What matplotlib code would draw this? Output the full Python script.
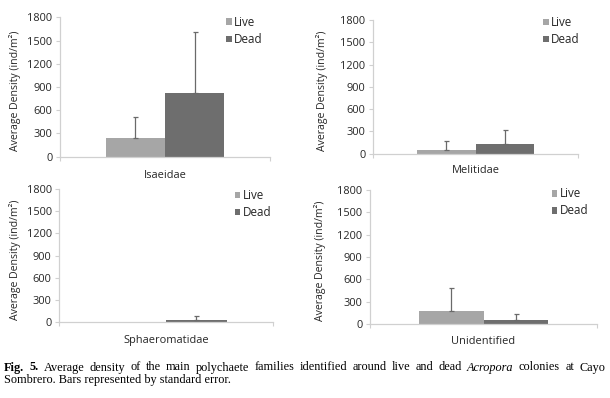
import matplotlib
matplotlib.use("Agg")
import matplotlib.pyplot as plt
from matplotlib.patches import Patch

# ---- data ----
families = ["Isaeidae", "Melitidae", "Sphaeromatidae", "Unidentified"]
live_mean = [245, 54, 0, 175]
live_se = [270, 121, 0, 309]
dead_mean = [819, 127, 22, 50]
dead_se = [795, 196, 63, 80]
yticks = [0, 300, 600, 900, 1200, 1500, 1800]
series_labels = ["Live", "Dead"]
ylabel = "Average Density (ind/m\u00b2)"

# ---- style ----
W, H = 610, 398
DPI = 100
plt.rcParams["font.family"] = ["Open Sans", "DejaVu Sans"]
live_color = "#a6a6a6"
dead_color = "#6e6e6e"
err_color = "#6a6a6a"
axis_color = "#d0d0d0"
text_color = "#262626"

fig = plt.figure(figsize=(W / DPI, H / DPI), dpi=DPI)

# panel rectangles in pixels: left, top, right, bottom
rects = [(60, 17.3, 270, 156.7),
         (373, 20, 578, 153.7),
         (59.3, 189, 273, 322),
         (370, 190, 597, 324)]
# legend anchor (axes fraction) for each panel
leg_anchor = [(0.79, 1.01), (0.83, 1.03), (0.82, 1.0), (0.80, 1.02)]
ylab_x_px = [15, 322, 15, 320]
xlab_pad = [4.0, 2.5, 3.8, 3.5]

tick_size = 7.9
bw = 0.566
for i, fam in enumerate(families):
    l, t, r, b = rects[i]
    ax = fig.add_axes([l / W, 1 - b / H, (r - l) / W, (b - t) / H])
    ax.bar(-bw / 2, live_mean[i], width=bw, color=live_color, zorder=2)
    ax.bar(bw / 2, dead_mean[i], width=bw, color=dead_color, zorder=2)
    for xc, m, se in [(-bw / 2, live_mean[i], live_se[i]), (bw / 2, dead_mean[i], dead_se[i])]:
        if se > 0:
            ax.errorbar([xc], [m], yerr=[[0], [se]], fmt="none",
                        ecolor=err_color, elinewidth=0.9, capsize=1.8,
                        capthick=0.9, zorder=3)
    ax.set_xlim(-1, 1)
    ax.set_ylim(0, 1800)
    ax.set_yticks(yticks)
    ax.set_yticklabels([str(v) for v in yticks])
    ax.set_xticks([-1, 1])
    ax.set_xticklabels(["", ""])
    for s in ["top", "right"]:
        ax.spines[s].set_visible(False)
    for s in ["left", "bottom"]:
        ax.spines[s].set_color(axis_color)
        ax.spines[s].set_linewidth(0.9)
    ax.tick_params(axis="both", direction="out", length=3, width=0.8,
                   color=axis_color, labelsize=tick_size, labelcolor=text_color, pad=2.5)
    ax.set_xlabel(fam, fontsize=tick_size, color=text_color, labelpad=xlab_pad[i])
    ax.set_ylabel(ylabel, fontsize=7.6, color=text_color)
    ax.yaxis.label.set_va("center")
    ax.yaxis.set_label_coords(-(l - ylab_x_px[i]) / (r - l), 0.47)
    handles = [Patch(facecolor=live_color, edgecolor="none"),
               Patch(facecolor=dead_color, edgecolor="none")]
    ax.legend(handles, series_labels, loc="upper left", bbox_to_anchor=leg_anchor[i],
              frameon=False, fontsize=8.4, handlelength=0.5, handleheight=0.5,
              handletextpad=0.2, labelspacing=0.35, borderpad=0, borderaxespad=0,
              labelcolor=text_color)

# ---- caption (justified first line) ----
line1 = [("Fig.", "bold", "normal"), ("5.", "bold", "normal"),
         ("Average", "normal", "normal"), ("density", "normal", "normal"),
         ("of", "normal", "normal"), ("the", "normal", "normal"),
         ("main", "normal", "normal"), ("polychaete", "normal", "normal"),
         ("families", "normal", "normal"), ("identified", "normal", "normal"),
         ("around", "normal", "normal"), ("live", "normal", "normal"),
         ("and", "normal", "normal"), ("dead", "normal", "normal"),
         ("Acropora", "normal", "italic"), ("colonies", "normal", "normal"),
         ("at", "normal", "normal"), ("Cayo", "normal", "normal")]
line2 = "Sombrero. Bars represented by standard error."
cap_font = ["Liberation Serif", "DejaVu Serif"]
cap_size = 8.8
x0, x1 = 4, 605
y1, y2 = 370.5, 383.0

renderer = fig.canvas.get_renderer()
texts = []
widths = []
for word, weight, style in line1:
    tx = fig.text(0, 1 - y1 / H, word, fontsize=cap_size, family=cap_font,
                  fontweight=weight, fontstyle=style, color="black",
                  ha="left", va="baseline")
    texts.append(tx)
    widths.append(tx.get_window_extent(renderer).width)
gap = (x1 - x0 - sum(widths)) / (len(texts) - 1)
x = x0
for tx, w in zip(texts, widths):
    tx.set_x(x / W)
    x += w + gap
fig.text(x0 / W, 1 - y2 / H, line2, fontsize=cap_size, family=cap_font,
         color="black", ha="left", va="baseline")

fig.savefig("out.png", dpi=DPI, facecolor="white")
